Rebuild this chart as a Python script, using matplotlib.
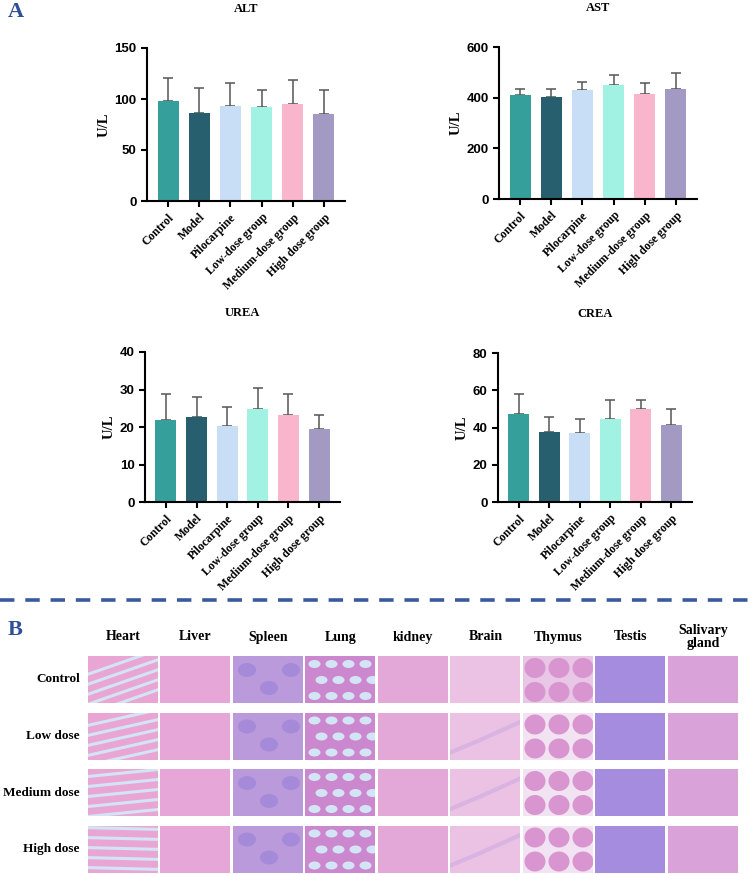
import numpy as np
import matplotlib
matplotlib.use("Agg")
import matplotlib.pyplot as plt
from matplotlib.patches import Rectangle, Ellipse
from matplotlib.lines import Line2D

SERIF = ["Liberation Serif", "DejaVu Serif"]
SANS = ["Liberation Sans", "DejaVu Sans"]
BLUE = "#2F4F98"
GAP = "#D3E5F4"   # unstained / air space tone

groups = ["Control", "Model", "Pilocarpine", "Low-dose group", "Medium-dose group", "High dose group"]
bar_cols = ["#35A09B", "#275F6E", "#C8DEF6", "#A2F2E4", "#F9B5CC", "#A39AC3"]

alt_mean = [98.3, 86.1, 93.3, 91.7, 95.0, 85.5]
alt_top = [120.5, 110.7, 115.3, 109.1, 118.6, 108.4]
ast_mean = [409, 401, 429, 450, 416, 435]
ast_top = [435, 433, 462, 491, 458, 496]
urea_mean = [21.9, 22.8, 20.2, 24.8, 23.3, 19.6]
urea_top = [28.7, 28.0, 25.3, 30.3, 28.8, 23.1]
crea_mean = [47.3, 37.5, 36.8, 44.5, 50.2, 41.2]
crea_top = [58.0, 45.4, 44.3, 55.0, 54.6, 50.0]

organs = ["Heart", "Liver", "Spleen", "Lung", "kidney", "Brain", "Thymus", "Testis", "Salivary\ngland"]
doses = ["Control", "Low dose", "Medium dose", "High dose"]
# rough mean stain colour per organ
organ_cols = ["#E9A6D5", "#E6A7D8", "#BB9ADB", "#CC88CE", "#E4A8D8",
              "#ECC2E4", "#E3B3DF", "#A68CDE", "#D9A2D8"]

W, H = 753, 874
fig = plt.figure(figsize=(W / 100, H / 100), dpi=100)


def px(l, t, r, b):
    return [l / W, 1 - b / H, (r - l) / W, (b - t) / H]


def bar_panel(rect, title, mean, top, ymax, step):
    ax = fig.add_axes(px(*rect))
    x = np.arange(len(groups))
    ax.bar(x, mean, width=0.68, color=bar_cols, zorder=2)
    err = np.array(top) - np.array(mean)
    ax.errorbar(x, mean, yerr=[np.zeros(len(x)), err], fmt="none",
                ecolor="#555555", elinewidth=1.1, capsize=3.6, capthick=1.1, zorder=1)
    ax.set_xlim(-0.68, len(x) - 1 + 0.68)
    ax.set_ylim(0, ymax)
    ax.set_yticks(np.arange(0, ymax + 1, step))
    for s in ["top", "right"]:
        ax.spines[s].set_visible(False)
    for s in ["left", "bottom"]:
        ax.spines[s].set_linewidth(1.5)
    ax.tick_params(width=1.5, length=4, direction="out")
    ax.set_xticks(x)
    ax.set_xticklabels(groups, rotation=45, ha="right", rotation_mode="anchor",
                       family=SERIF, fontweight="bold", fontsize=8.5)
    for lab in ax.get_yticklabels():
        lab.set_family(SANS); lab.set_fontweight("bold"); lab.set_fontsize(9.5)
    ax.set_ylabel("U/L", family=SERIF, fontweight="bold", fontsize=10.5, labelpad=3)
    cx = (rect[0] + rect[2]) / 2
    fig.text(cx / W, 1 - (rect[1] - 39) / H, title, ha="center", va="center",
             family=SERIF, fontweight="bold", fontsize=9)
    return ax


bar_panel((147, 48, 345, 201), "ALT", alt_mean, alt_top, 150, 50)
bar_panel((499, 47, 697, 199), "AST", ast_mean, ast_top, 600, 200)
bar_panel((145, 352, 340, 502), "UREA", urea_mean, urea_top, 40, 10)
bar_panel((498, 353, 692, 502), "CREA", crea_mean, crea_top, 80, 20)

fig.text(8 / W, 1 - 12 / H, "A", color=BLUE, family=SERIF, fontweight="bold",
         fontsize=16, va="center", ha="left")
fig.text(8 / W, 1 - 630 / H, "B", color=BLUE, family=SERIF, fontweight="bold",
         fontsize=16, va="center", ha="left")

# dashed separator
fig.add_artist(Line2D([0, 1], [1 - 600 / H] * 2, transform=fig.transFigure,
                      color="#3A5A9E", lw=2.6, dashes=(4, 3)))

# panel B: grid of tissue sections (schematic stand-ins for the micrographs)
gx = fig.add_axes([0, 0, 1, 1])
gx.set_xlim(0, W); gx.set_ylim(H, 0); gx.axis("off")
x0, pitch_x, cw = 88, 72.5, 70
y0, pitch_y, ch = 656, 56.5, 47


def texture(org, l, t, i, clip):
    arts = []
    if org == "Heart":
        for k in range(5):
            yy = t + 6 + k * 10
            arts.append(Line2D([l - 5, l + cw + 5], [yy + 14 - 6 * i, yy - 14 + 4 * i],
                               color=GAP, lw=2.2))
    elif org == "Lung":
        for r in range(3):
            for c in range(4):
                arts.append(Ellipse((l + 9 + c * 17 + (r % 2) * 7, t + 8 + r * 16), 12, 8,
                                    facecolor=GAP, edgecolor="none"))
    elif org == "Thymus":
        arts.append(Rectangle((l, t), cw, ch, facecolor="#F1E3F2" if i else "#E8C6E6",
                              edgecolor="none"))
        for r in range(2):
            for c in range(3):
                arts.append(Ellipse((l + 12 + c * 24, t + 12 + r * 24), 21, 20,
                                    facecolor="#D995CF", edgecolor="none"))
    elif org == "Brain" and i > 0:
        arts.append(Line2D([l, l + cw * 0.4, l + cw], [t + ch * 0.85, t + ch * 0.6, t + ch * 0.2],
                           color="#D9B3E2", lw=3))
    elif org == "Spleen":
        for c in range(3):
            arts.append(Ellipse((l + 14 + c * 22, t + 14 + (c % 2) * 18), 18, 14,
                                facecolor="#A48AD8", edgecolor="none"))
    for a in arts:
        gx.add_artist(a)
        a.set_clip_path(clip)


for j, org in enumerate(organs):
    cx = x0 + j * pitch_x + cw / 2
    gx.text(cx, 637, org, ha="center", va="center", family=SERIF,
            fontweight="bold", fontsize=10, linespacing=1.05)
    for i in range(len(doses)):
        l, t = x0 + j * pitch_x, y0 + i * pitch_y
        cell = Rectangle((l, t), cw, ch, facecolor=organ_cols[j], edgecolor="none")
        gx.add_patch(cell)
        texture(org, l, t, i, cell)
for i, d in enumerate(doses):
    gx.text(80, y0 + i * pitch_y + ch / 2, d, ha="right", va="center",
            family=SERIF, fontweight="bold", fontsize=9.5)

fig.savefig("out.png", dpi=100)
